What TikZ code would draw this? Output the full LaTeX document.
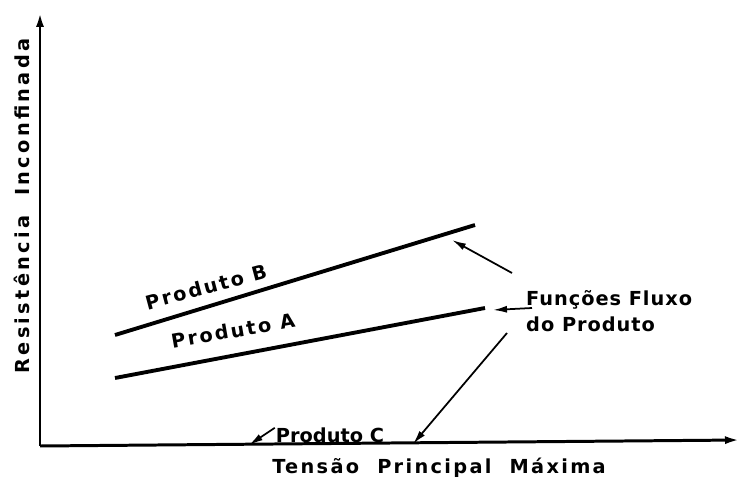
\documentclass[tikz,border=0pt]{standalone}
\usepackage{fontspec}
\setmainfont{DejaVu Sans}
\usepackage{tikz}
\usetikzlibrary{arrows.meta}
\tikzset{
  axis/.style={line width=1.7pt, -{Latex[length=3mm,width=1.6mm]}},
  curve/.style={line width=2.2pt},
  pointer/.style={line width=1pt, -{Latex[length=2.8mm,width=1.4mm]}},
  lbl/.style={font=\fontsize{11}{15}\selectfont\bfseries},
  widelbl/.style={font=\fontsize{11}{15}\selectfont\bfseries\addfontfeature{LetterSpace=12}}
}
\begin{document}
\begin{tikzpicture}
	\useasboundingbox (0,0) rectangle (14.82,9.64);
		% axes
	\coordinate (O) at (0.80,0.72);
	\coordinate (ytop) at (0.80,9.40);
	\coordinate (xend) at (14.80,0.84);
	\draw[axis] (O) -- (ytop);
	\draw[axis] (O) -- (xend);
	\node[widelbl] (xlabel) at (8.78,0.28) {Tensão\ \ Principal\ \ Máxima};
	\node[widelbl, rotate=90, font=\fontsize{11}{15}\selectfont\bfseries\addfontfeature{LetterSpace=17}] (ylabel) at (0.44,5.52) {Resistência\ \ Inconfinada};
	
		% flow functions
	\coordinate (Bstart) at (2.30,2.94);
	\coordinate (Bend) at (9.50,5.14);
	\coordinate (Astart) at (2.30,2.08);
	\coordinate (Aend) at (9.70,3.48);
	\draw[curve] (Bstart) -- (Bend);
	\draw[curve] (Astart) -- (Aend);
	\node[widelbl, rotate=15, inner sep=0pt] (prodB) at (4.12,3.90) {Produto B};
	\node[widelbl, rotate=10, inner sep=0pt] (prodA) at (4.66,3.03) {Produto\ A};
	\node[lbl] (prodC) at (6.60,0.93) {Produto C};
	
		% pointers
	\node[lbl, align=left, anchor=west, font=\fontsize{11}{15}\selectfont\bfseries\addfontfeature{LetterSpace=5}] (fluxo) at (10.40,3.42) {Funções Fluxo\\do Produto};
	\coordinate (tB) at (10.24,4.18);
	\coordinate (hB) at (9.04,4.84);
	\coordinate (tA) at (10.64,3.48);
	\coordinate (hA) at (9.86,3.44);
	\coordinate (tC) at (10.14,2.98);
	\coordinate (hC) at (8.26,0.76);
	\coordinate (hC2) at (4.98,0.74);
	\draw[pointer] (tB) -- (hB);
	\draw[pointer] (tA) -- (hA);
	\draw[pointer] (tC) -- (hC);
	\draw[pointer] ([shift={(0.10,-0.12)}]prodC.north west) -- (hC2);
	
\end{tikzpicture}
\end{document}
